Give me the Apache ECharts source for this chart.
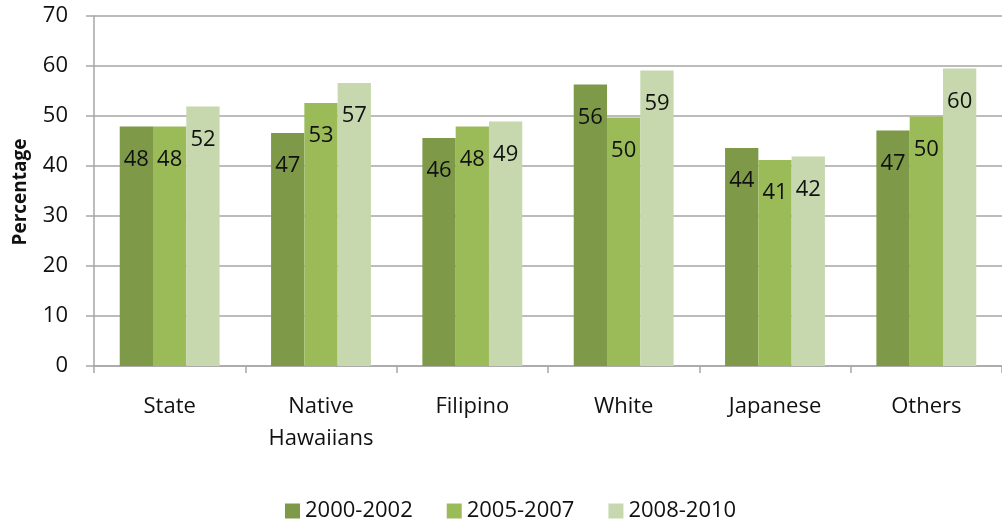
<!DOCTYPE html>
<html>
<head>
<meta charset="utf-8">
<script src="https://cdn.jsdelivr.net/npm/echarts@6/dist/echarts.min.js"></script>
<style>
html,body{margin:0;padding:0;background:#fff;}
#chart{width:1002px;height:522px;}
</style>
</head>
<body>
<div id="chart"></div>
<script>
const categories = ['State', 'Native\nHawaiians', 'Filipino', 'White', 'Japanese', 'Others'];
const seriesNames = ['2000-2002', '2005-2007', '2008-2010'];
const values2000 = [47.9, 46.6, 45.6, 56.3, 43.6, 47.1];
const values2005 = [47.9, 52.6, 47.9, 49.7, 41.2, 49.9];
const values2008 = [51.9, 56.6, 48.9, 59.1, 41.9, 59.5];
const colors = ['#7e9a48', '#9bbb59', '#c7d8ae'];
const yTicks = { min: 0, max: 70, interval: 10 };

const FONT = '"Open Sans", "Noto Sans", sans-serif';
const chart = echarts.init(document.getElementById('chart'), null, { renderer: 'canvas' });

function mkSeries(name, data, color) {
  return {
    name: name,
    type: 'bar',
    data: data,
    barGap: '0%',
    barCategoryGap: '34%',
    itemStyle: { color: color },
    label: {
      show: true,
      position: 'insideTop',
      distance: 22,
      fontFamily: FONT,
      fontSize: 22,
      color: '#111',
      formatter: p => String(Math.round(p.value))
    },
    emphasis: { disabled: true }
  };
}

chart.setOption({
  animation: false,
  color: colors,
  grid: { left: 94, right: -8, top: 16, bottom: 156, containLabel: false },
  legend: {
    data: seriesNames,
    left: 280,
    top: 495,
    itemWidth: 15,
    itemHeight: 15,
    itemGap: 34,
    icon: 'rect',
    textStyle: { fontFamily: FONT, fontSize: 22, color: '#111' }
  },
  xAxis: {
    type: 'category',
    data: categories,
    axisLine: { show: true, lineStyle: { color: '#a6a6a6', width: 1.5 } },
    axisTick: { show: true, length: 7, interval: 0, lineStyle: { color: '#a6a6a6', width: 1.5 } },
    axisLabel: { fontFamily: FONT, fontSize: 22, color: '#111', margin: 25, lineHeight: 32, interval: 0 }
  },
  yAxis: {
    type: 'value',
    min: yTicks.min,
    max: yTicks.max,
    interval: yTicks.interval,
    axisLine: { show: true, lineStyle: { color: '#a6a6a6', width: 1.5 } },
    axisTick: { show: true, length: 8, lineStyle: { color: '#a6a6a6', width: 1.5 } },
    splitLine: { show: true, lineStyle: { color: '#a6a6a6', width: 1.5 } },
    axisLabel: { fontFamily: FONT, fontSize: 22, color: '#111', margin: 26 }
  },
  graphic: [{
    type: 'text',
    x: 21,
    y: 192,
    rotation: Math.PI / 2,
    style: {
      text: 'Percentage',
      fontFamily: FONT,
      fontSize: 19,
      fontWeight: 'bold',
      fill: '#111',
      textAlign: 'center',
      textVerticalAlign: 'middle'
    }
  }],
  series: [
    mkSeries(seriesNames[0], values2000, colors[0]),
    mkSeries(seriesNames[1], values2005, colors[1]),
    mkSeries(seriesNames[2], values2008, colors[2])
  ]
});
</script>
</body>
</html>
